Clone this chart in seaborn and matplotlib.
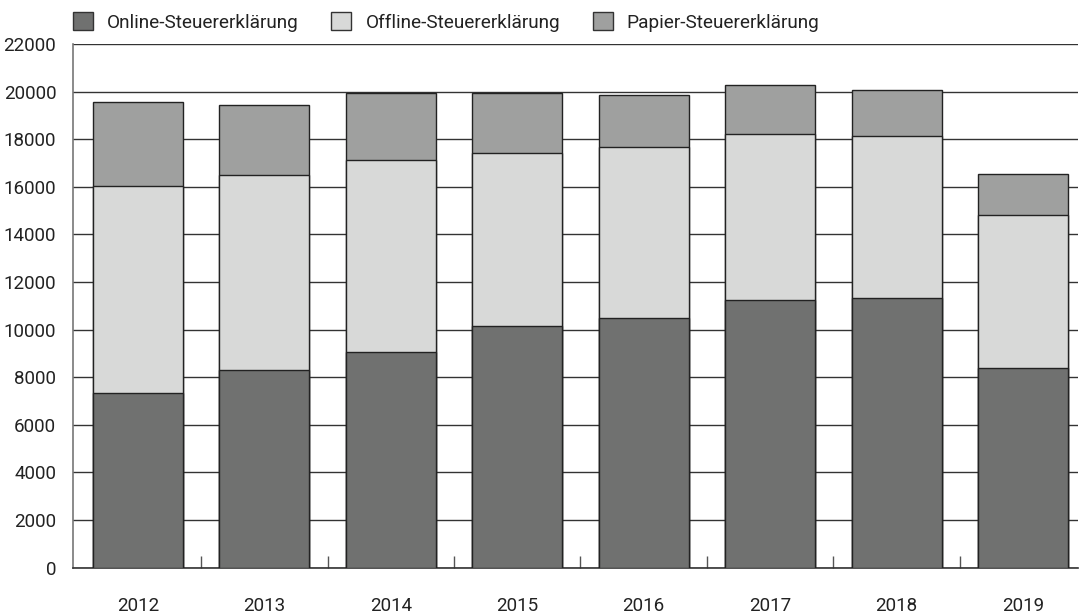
import matplotlib
matplotlib.use("Agg")
import matplotlib.pyplot as plt
import matplotlib.patches as mpatches
from matplotlib.ticker import FixedLocator, MultipleLocator
import seaborn as sns
import numpy as np
import pandas as pd

# data
years = ["2012", "2013", "2014", "2015", "2016", "2017", "2018", "2019"]
online = [7320, 8320, 9060, 10160, 10490, 11260, 11310, 8380]
offline = [8700, 8165, 8055, 7240, 7160, 6975, 6815, 6440]
papier = [3530, 2955, 2845, 2560, 2225, 2030, 1920, 1710]
labels = ["Online-Steuererklärung", "Offline-Steuererklärung", "Papier-Steuererklärung"]
colors = ["#707170", "#d8d9d8", "#9fa09f"]

sns.set_theme(style="white")
plt.rcParams["font.family"] = ["Roboto", "DejaVu Sans"]

df = pd.DataFrame({"year": years, "online": online, "offline": offline, "papier": papier})
df["c1"] = df["online"]
df["c2"] = df["c1"] + df["offline"]
df["c3"] = df["c2"] + df["papier"]

fig = plt.figure(figsize=(10.8, 6.15), dpi=100)
ax = fig.add_axes([0.0676, 0.0772, 0.931, 0.8513])

# stacked bars: draw cumulative totals back to front
for col, color in zip(["c3", "c2", "c1"], colors[::-1]):
    sns.barplot(data=df, x="year", y=col, color=color, width=0.71,
                edgecolor="#222222", linewidth=1, saturation=1, ax=ax, zorder=3)

ax.set_xlim(-0.513, 7.438)
ax.set_ylim(0, 22000)
ax.yaxis.set_major_locator(MultipleLocator(2000))
ax.grid(axis="y", color="#333333", linewidth=1, zorder=0)
ax.grid(axis="x", visible=False)
ax.set_axisbelow(True)

for s in ["top", "right"]:
    ax.spines[s].set_visible(False)
ax.spines["left"].set_color("#777777")
ax.spines["bottom"].set_color("#333333")
ax.spines["left"].set_linewidth(1.2)
ax.spines["bottom"].set_linewidth(1.2)

ax.set_xlabel("")
ax.set_ylabel("")
ax.tick_params(axis="x", which="major", length=0, pad=21, labelsize=13.5, colors="#222222")
ax.xaxis.set_minor_locator(FixedLocator(np.arange(0.5, 7.5, 1)))
ax.tick_params(axis="x", which="minor", direction="in", length=9, width=1, color="#555555", bottom=True)
ax.tick_params(axis="y", length=0, pad=12, labelsize=13.5, colors="#222222")

handles = [mpatches.Patch(facecolor=c, edgecolor="#333333", linewidth=1) for c in colors]
fig.legend(handles, labels, loc="upper left", bbox_to_anchor=(0.0676, 0.98), ncol=3,
           frameon=False, fontsize=13.7, handlelength=1.05, handleheight=1.05,
           handletextpad=0.75, columnspacing=1.7, borderpad=0, borderaxespad=0,
           labelcolor="#222222")

fig.savefig("out.png", dpi=100)
